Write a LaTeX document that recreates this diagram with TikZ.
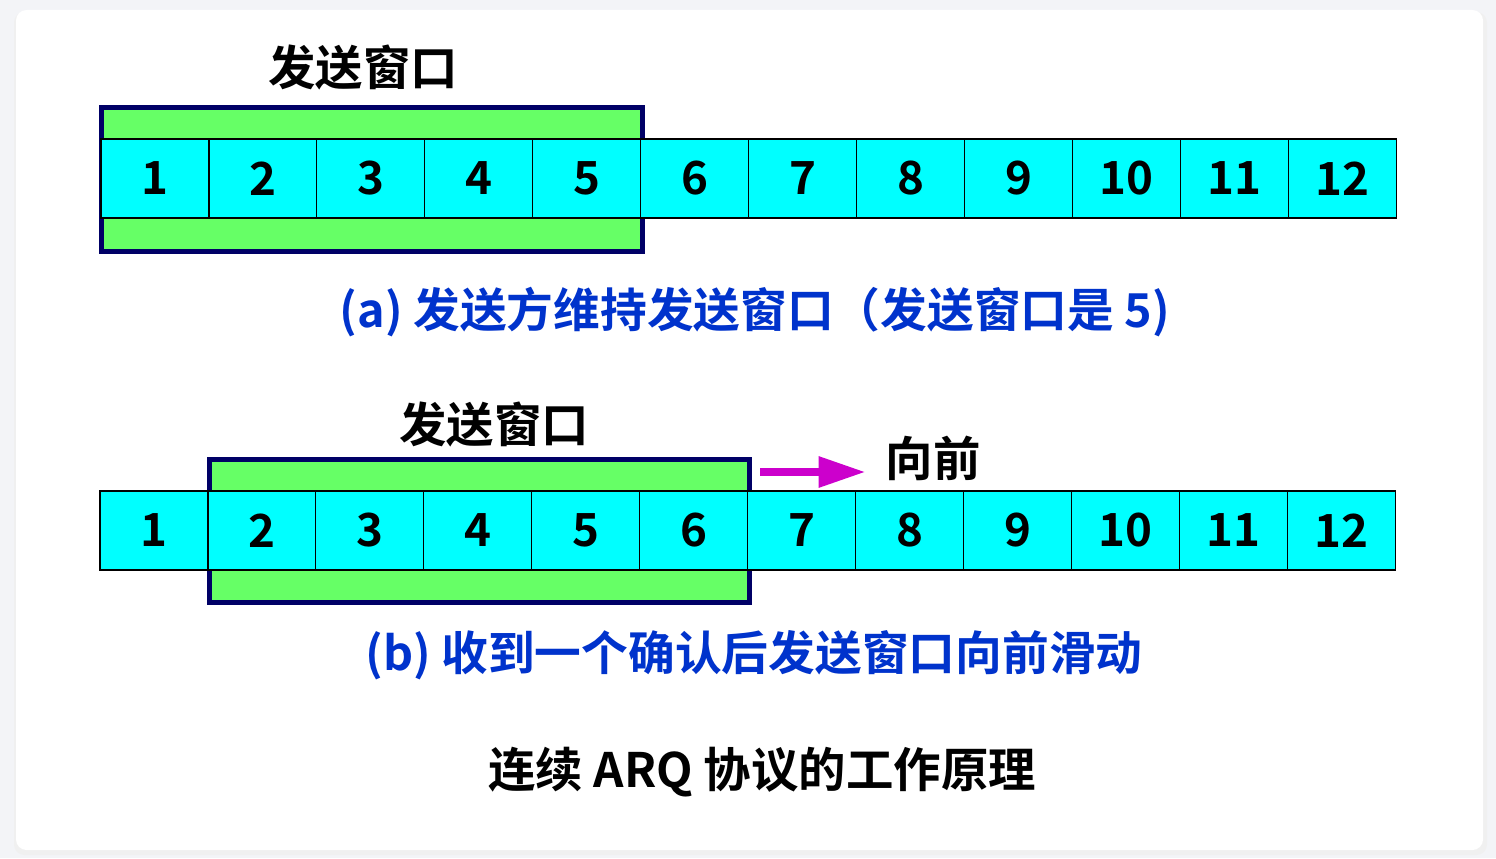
\documentclass[tikz,border=0pt]{standalone}
\usepackage{fontspec}
\setmainfont{Noto Sans CJK SC}[BoldFont = * Bold]
\usepackage{xcolor}
\usetikzlibrary{arrows.meta, positioning}
\definecolor{cellcyan}{HTML}{00FFFF}
\definecolor{wingreen}{HTML}{66FF66}
\definecolor{winnavy}{HTML}{000066}
\definecolor{capblue}{HTML}{0033CC}
\definecolor{fwdpink}{HTML}{CC00CC}
\definecolor{pagegray}{HTML}{F3F4F7}

\begin{document}
\begin{tikzpicture}[
    x=0.02cm, y=-0.02cm,
    cell/.style={rectangle, draw=black, line width=0.6pt, fill=cellcyan,
                 minimum width=2.16cm, minimum height=1.58cm, inner sep=0pt,
                 outer sep=0pt, font=\fontsize{26}{30}\selectfont\bfseries},
    window/.style={draw=winnavy, line width=2.8pt, fill=wingreen},
    lbl/.style={font=\fontsize{27}{32}\selectfont\bfseries},
    caption/.style={font=\fontsize{26.6}{32}\selectfont\bfseries, text=capblue},
    fwd/.style={-{Triangle[length=27pt, width=16.5pt]}, line width=5.1pt, fwdpink},
]
\useasboundingbox (0,0) rectangle (1496,858);
% page and card
\fill[pagegray] (0,0) rectangle (1496,858);
\fill[black!6, rounded corners=6pt] (14,12) rectangle (1487,855);
\fill[white, rounded corners=6pt] (16,10) rectangle (1483,850);

% (a) window covers 1..5
\draw[window] (101.5,107.5) rectangle (642.5,251.5);
\node[cell, anchor=north west] (a1) at (101,139) {1};
\foreach \i [remember=\i as \prev (initially 1)] in {2,...,12}
    \node[cell, right=0pt of a\prev] (a\i) {\i};
\node[lbl] (wina) at (363,67) {发送窗口};
\node[caption] (capa) at (755,312) {(a) 发送方维持发送窗口（发送窗口是 5)};

% (b) window slid to 2..6
\draw[window] (209.5,459.5) rectangle (749.5,602.5);
\node[cell, anchor=north west] (b1) at (100,491) {1};
\foreach \i [remember=\i as \prev (initially 1)] in {2,...,12}
    \node[cell, right=0pt of b\prev] (b\i) {\i};
\node[lbl] (winb) at (494,424) {发送窗口};
\node[lbl] (ahead) at (933,458) {向前};
\coordinate (fwdS) at (760,472);
\coordinate (fwdE) at (866,472);
\draw[fwd] (fwdS) -- (fwdE);
\node[caption] (capb) at (754,655) {(b) 收到一个确认后发送窗口向前滑动};

\node[lbl] (title) at (762,772) {连续 ARQ 协议的工作原理};
\end{tikzpicture}
\end{document}
